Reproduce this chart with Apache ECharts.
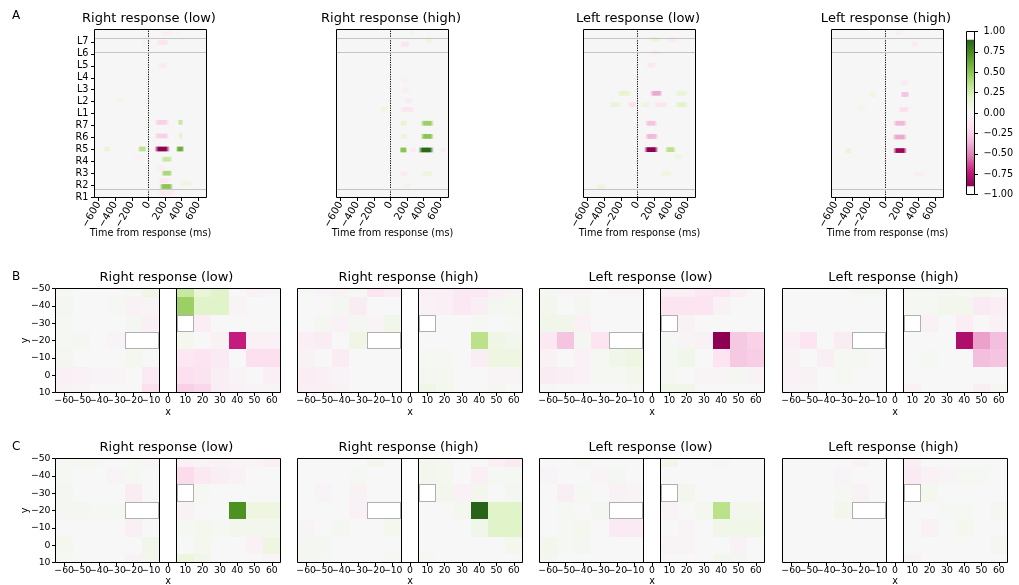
<!DOCTYPE html>
<html>
<head>
<meta charset="utf-8">
<script src="https://cdn.jsdelivr.net/npm/echarts@6/dist/echarts.min.js"></script>
<style>
  html, body { margin: 0; padding: 0; background: #fff; }
  #chart { width: 1019px; height: 585px; }
</style>
</head>
<body>
<div id="chart"></div>
<script>
// ---------- shared labels ----------
const PANEL_TITLES = ['Right response (low)', 'Right response (high)', 'Left response (low)', 'Left response (high)'];
const ROW_LETTERS = ['A', 'B', 'C'];

// ---------- row A: channel x time rasters ----------
const CHANNELS = ['R1', 'R2', 'R3', 'R4', 'R5', 'R6', 'R7', 'L1', 'L2', 'L3', 'L4', 'L5', 'L6', 'L7'];
const TIME_TICKS = [-600, -400, -200, 0, 200, 400, 600];
const TIME_MIN = -650, TIME_MAX = 700;
const CHANNEL_TOP = 14.03;
const BANK_EDGES = [0.72, 12.17, 13.28];

// each entry: [start ms, end ms, channel position, value]
const rasterRightLow = [
  [72, 260, 4.05, -0.9], [332, 432, 4.05, 0.6], [-128, -20, 4.05, 0.35], [-548, -448, 4.05, 0.15],
  [152, 292, 3.2, 0.3], [152, 292, 2.03, 0.4], [92, 212, 2.45, -0.08], [132, 300, 0.92, 0.5],
  [112, 272, 1.4, -0.12], [92, 332, 0.36, -0.12], [72, 252, 5.14, -0.25], [360, 412, 5.14, 0.2],
  [72, 252, 6.28, -0.25], [352, 420, 6.28, 0.3], [92, 252, 12.94, -0.15], [-68, -28, 12.94, 0.08],
  [112, 232, 11.05, -0.1], [152, 292, 13.7, -0.08], [372, 432, 13.2, 0.06], [-390, -270, 8.1, 0.06],
  [-188, -28, 3.4, -0.05], [372, 532, 1.2, 0.1]
];
const rasterRightHigh = [
  [108, 204, 3.97, 0.5], [336, 524, 3.97, 0.88], [236, 316, 3.97, -0.12], [596, 676, 3.97, -0.1],
  [364, 524, 5.1, 0.5], [116, 204, 5.1, 0.15], [364, 524, 6.2, 0.45], [116, 204, 6.2, 0.18],
  [116, 296, 7.35, -0.15], [156, 276, 8.1, -0.1], [116, 236, 8.95, -0.08], [136, 216, 9.8, -0.06],
  [116, 236, 12.8, -0.15], [416, 516, 13.15, 0.12], [-124, -24, 7.4, 0.1], [116, 216, 2.0, -0.1],
  [376, 516, 2.0, 0.12], [156, 236, 1.0, 0.08], [236, 296, 13.8, 0.08]
];
const rasterLeftLow = [
  [80, 252, 4.0, -0.9], [332, 464, 4.0, 0.35], [92, 252, 5.1, -0.35], [92, 240, 6.2, -0.3],
  [152, 304, 8.7, -0.4], [452, 612, 8.7, 0.15], [-248, -68, 8.7, 0.18], [-348, -188, 7.75, 0.15],
  [-120, -8, 7.75, -0.18], [32, 152, 7.75, 0.12], [192, 372, 7.75, -0.15], [452, 612, 7.75, 0.2],
  [104, 232, 11.05, -0.12], [144, 280, 13.2, 0.15], [352, 492, 13.2, -0.1], [152, 292, 12.1, -0.08],
  [272, 432, 2.0, 0.1], [432, 552, 3.4, 0.1], [-508, -368, 0.9, 0.1]
];
const rasterLeftHigh = [
  [92, 260, 3.92, -0.85], [84, 260, 5.05, -0.4], [92, 260, 6.2, -0.35], [152, 292, 7.35, -0.18],
  [180, 292, 8.6, -0.3], [172, 292, 9.6, -0.1], [312, 392, 12.8, -0.1], [112, 212, 13.8, -0.08],
  [-488, -408, 3.92, 0.15], [-208, -108, 8.6, 0.1], [332, 492, 1.95, -0.08], [-348, -228, 7.5, 0.06]
];

// ---------- rows B and C: sensor maps ----------
const CELL_X = [-60, -50, -40, -30, -20, -10, 10, 20, 30, 40, 50, 60];
const CELL_Y = [-50, -40, -30, -20, -10, 0, 10];
const X_TICKS = [-60, -50, -40, -30, -20, -10, 0, 10, 20, 30, 40, 50, 60];
const X_MIN = -65, X_MAX = 65, Y_MIN = -50, Y_MAX = 10;
const MIDLINE = [-5, 5];
// one row per CELL_Y entry, one column per CELL_X entry; null = no sensor
const mapB_RightLow = [
  [0.02, 0, 0, 0, 0.02, 0.08, 0.3, 0.15, 0.2, 0, -0.05, -0.03],
  [0.03, 0, 0, 0.02, -0.05, -0.02, 0.45, 0.2, 0.2, -0.02, 0, 0],
  [0.02, 0, 0, 0, 0.03, -0.06, null, -0.08, 0, 0, 0, 0],
  [0.02, 0.03, 0, -0.03, null, null, 0.04, 0, -0.04, -0.72, -0.05, -0.05],
  [0.03, 0, 0, 0, 0.04, 0, -0.12, -0.15, -0.1, 0, -0.18, -0.18],
  [-0.06, -0.05, -0.03, -0.02, 0, -0.1, -0.18, -0.16, -0.07, -0.03, 0, -0.06],
  [-0.04, -0.02, 0, 0, 0, -0.18, -0.25, -0.22, -0.07, -0.05, -0.03, -0.02]
];
const mapB_RightHigh = [
  [0.02, -0.03, -0.04, 0.02, -0.14, -0.09, -0.06, -0.06, -0.12, -0.12, -0.06, -0.02],
  [0, 0, 0.03, -0.09, 0, 0, -0.05, -0.06, -0.12, -0.07, 0.03, 0.04],
  [0, 0.03, -0.05, 0.03, -0.02, 0.06, null, 0, 0, 0.02, 0, 0.02],
  [-0.06, -0.09, 0, 0.08, null, null, 0, 0, 0, 0.35, 0.08, 0.05],
  [-0.04, 0, -0.09, 0, 0, 0, 0.02, 0.02, 0, -0.07, 0.1, 0.1],
  [-0.08, -0.06, -0.03, 0, 0, 0, 0.03, 0.04, 0, 0, -0.02, -0.02],
  [-0.06, -0.06, -0.04, 0, 0, 0, 0.08, 0.04, 0, 0, 0.03, 0]
];
const mapB_LeftLow = [
  [0.03, -0.02, -0.02, 0, -0.03, -0.02, -0.06, -0.06, -0.12, -0.14, -0.06, 0],
  [0.05, 0, 0.03, 0, 0, 0, -0.14, -0.14, -0.14, -0.04, 0, 0],
  [0.06, 0.06, -0.05, 0, 0, 0, null, -0.04, 0, 0, 0, 0],
  [-0.12, -0.3, 0.03, -0.14, null, null, 0.02, -0.02, -0.04, -0.9, -0.28, -0.24],
  [-0.04, 0, -0.05, 0.02, 0.06, 0.1, 0.02, 0.07, 0, -0.14, -0.28, -0.26],
  [-0.09, -0.07, -0.05, 0.02, 0.02, 0.05, 0.02, 0, -0.02, -0.02, 0.03, -0.04],
  [0.01, 0, 0, 0, 0, 0.02, 0.06, 0.06, 0, 0, 0, 0]
];
const mapB_LeftHigh = [
  [0, 0, 0, 0, 0.03, 0.03, 0.02, 0.02, 0.03, 0.02, 0.04, 0.02],
  [0, 0, 0, 0, 0, 0, 0.02, 0.02, 0.05, 0.05, -0.1, -0.08],
  [0, 0, 0, 0, 0, 0, null, -0.05, 0, -0.08, 0, -0.05],
  [-0.06, -0.14, 0, -0.09, null, null, 0, 0, 0, -0.8, -0.42, -0.32],
  [-0.04, 0, -0.07, 0.02, 0.02, 0, 0, 0.02, 0, 0, -0.32, -0.3],
  [-0.05, -0.04, 0, 0.02, 0, 0, 0, 0, 0, 0, 0, 0],
  [-0.03, -0.02, 0, 0, 0, 0, -0.04, 0, 0, 0, -0.07, 0.03]
];
const mapC_RightLow = [
  [0.02, 0.04, 0.02, 0, 0.02, -0.03, -0.05, -0.03, -0.04, -0.02, -0.02, -0.06],
  [0.02, 0, 0, -0.03, 0.02, 0, -0.2, -0.11, -0.07, -0.05, 0, 0],
  [0.03, 0, 0, 0, -0.09, 0, null, 0.02, 0, 0, 0, 0],
  [0.03, 0.03, 0.02, 0.02, null, null, -0.04, 0, 0, 0.72, 0.1, 0.1],
  [0, 0, 0, 0, -0.06, 0, 0.02, 0.04, 0.02, 0.05, 0.05, 0.05],
  [0.04, 0, 0, 0, 0, 0.06, 0, 0.04, 0, 0, -0.05, 0.1],
  [0.02, 0, 0, 0, -0.04, 0.05, 0.12, 0.06, 0, 0, 0, -0.03]
];
const mapC_RightHigh = [
  [0, 0, 0, 0, 0.05, 0, 0.05, 0.03, 0, 0, -0.06, -0.1],
  [0, 0, 0, 0.02, 0, 0, 0.05, 0.04, 0, -0.06, 0.02, 0.02],
  [0, -0.03, 0, -0.04, 0, 0, null, 0.05, -0.05, 0.05, 0, 0.03],
  [0, 0, 0, -0.05, null, null, 0, 0, 0.04, 0.9, 0.2, 0.2],
  [-0.02, 0, 0.03, 0, 0, 0.04, 0, 0, 0, 0.06, 0.2, 0.2],
  [0.03, 0.03, 0, 0, 0, 0, 0, 0, 0, 0, 0, 0.04],
  [0.03, 0.02, 0, 0, 0, 0.02, 0.02, 0, 0, 0, 0, 0]
];
const mapC_LeftLow = [
  [0, 0, 0.03, 0, 0, 0, 0.06, 0, 0, 0.03, 0, 0],
  [-0.03, 0, 0, -0.02, 0.03, 0, 0, 0, 0, 0, 0, 0],
  [0, -0.07, 0.02, 0, -0.04, -0.02, null, 0.05, 0, 0, 0, 0],
  [0, 0.02, 0, 0.03, null, null, -0.03, 0, 0.04, 0.35, 0.05, 0.05],
  [0, 0.02, 0.04, 0, -0.1, -0.1, 0, -0.03, 0, 0.07, 0.07, 0.07],
  [0.05, 0.02, 0.03, 0, 0, 0, -0.02, -0.02, 0, 0, -0.04, 0],
  [0.03, 0, 0, 0, 0, 0, 0, 0, 0, 0.05, 0.03, 0]
];
const mapC_LeftHigh = [
  [0, 0, 0, 0, -0.05, 0, -0.07, 0, 0, 0, 0, 0],
  [0, 0, 0, -0.03, 0, 0, -0.1, -0.05, -0.02, 0.02, 0.02, 0],
  [0, 0, 0, 0.02, -0.04, 0, null, 0.04, 0, 0, 0, 0],
  [0, 0, 0, 0.05, null, null, 0, 0, 0.02, 0.02, 0, 0.03],
  [0, 0, 0, 0, 0, 0, 0, -0.04, 0, 0.04, 0, 0],
  [0, 0, 0, 0, 0, 0, 0, 0, 0, 0, 0, 0.03],
  [0, 0, 0, 0, 0, 0, -0.04, 0, 0, 0, 0, 0]
];

// ---------- colour scale ----------
const COLORBAR_TICKS = [-1, -0.75, -0.5, -0.25, 0, 0.25, 0.5, 0.75, 1];
const CMAP_LIM = 0.9;
const PIYG = ['#8e0152', '#c51b7d', '#de77ae', '#f1b6da', '#fde0ef', '#f7f7f7',
              '#e6f5d0', '#b8e186', '#7fbc41', '#4d9221', '#276419'];

// ---------- helpers ----------
const FONT = 'DejaVu Sans';
const INK = '#000';
const PIYG_RGB = PIYG.map(h => [1, 3, 5].map(k => parseInt(h.slice(k, k + 2), 16)));
function piyg(v, alpha) {
  const c = Math.max(-CMAP_LIM, Math.min(CMAP_LIM, v));
  const p = (c + CMAP_LIM) / (2 * CMAP_LIM) * (PIYG.length - 1);
  const i = Math.min(PIYG.length - 2, Math.floor(p));
  const f = p - i;
  const rgb = PIYG_RGB[i].map((x, k) => Math.round(x + (PIYG_RGB[i + 1][k] - x) * f));
  return 'rgba(' + rgb.join(',') + ',' + (alpha === undefined ? 1 : alpha) + ')';
}
const minus = v => String(v).replace('-', '\u2212');

// ---------- layout ----------
const A_GRIDS = [94.5, 336.5, 583.5, 831.5].map(l => ({ left: l, top: 29.5, width: 112, height: 168 }));
const CB_GRID = { left: 966.5, top: 31.5, width: 8, height: 163 };
const B_GRIDS = [55.5, 297.5, 539.5, 782.5].map(l => ({ left: l, top: 288.5, width: 225, height: 104 }));
const C_GRIDS = [55.5, 297.5, 539.5, 782.5].map(l => ({ left: l, top: 458.5, width: 225, height: 104 }));
const ALL_GRIDS = [...A_GRIDS, CB_GRID, ...B_GRIDS, ...C_GRIDS];

const grids = ALL_GRIDS.map((g, i) => Object.assign({}, g, {
  show: i < 4, backgroundColor: '#f6f6f6', borderWidth: 0, containLabel: false, outerBoundsMode: 'none'
}));

const xAxes = [], yAxes = [], series = [];
const tickFont = { fontSize: 9.7, color: INK, fontFamily: FONT };

// row A axes + rasters
const rasters = [rasterRightLow, rasterRightHigh, rasterLeftLow, rasterLeftHigh];
rasters.forEach((data, i) => {
  xAxes.push({
    gridIndex: i, type: 'value', min: TIME_MIN, max: TIME_MAX,
    axisLine: { show: false, onZero: false }, splitLine: { show: false },
    axisTick: { show: true, customValues: TIME_TICKS, length: 3.5, lineStyle: { color: INK, width: 1 } },
    axisLabel: Object.assign({ customValues: TIME_TICKS, rotate: 60, margin: 5, formatter: minus,
                 showMinLabel: true, showMaxLabel: true, hideOverlap: false }, tickFont, { fontSize: 10.2 }),
    name: 'Time from response (ms)', nameLocation: 'middle', nameGap: 31, nameMoveOverlap: false,
    nameTextStyle: tickFont
  });
  yAxes.push({
    gridIndex: i, type: 'value', min: 0, max: CHANNEL_TOP,
    axisLine: { show: false, onZero: false }, splitLine: { show: false },
    axisTick: { show: i === 0, customValues: CHANNELS.map((_, k) => k), length: 3.5, lineStyle: { color: INK, width: 1 } },
    axisLabel: Object.assign({ show: i === 0, customValues: CHANNELS.map((_, k) => k), margin: 6,
                 formatter: v => CHANNELS[Math.round(v)], showMinLabel: true, showMaxLabel: true, hideOverlap: false }, tickFont)
  });
  series.push({
    type: 'custom', xAxisIndex: i, yAxisIndex: i, data: data,
    encode: { x: [0, 1], y: 2 }, silent: true,
    renderItem: (params, api) => {
      const v = api.value(3), row = api.value(2);
      const p0 = api.coord([api.value(0), row + 0.2]);
      const p1 = api.coord([api.value(1), row - 0.2]);
      const cs = params.coordSys;
      const x0 = Math.max(cs.x, p0[0]), x1 = Math.min(cs.x + cs.width, p1[0]);
      const c = piyg(v), c0 = piyg(v, 0);
      return {
        type: 'rect',
        shape: { x: x0, y: p0[1], width: Math.max(0, x1 - x0), height: p1[1] - p0[1] },
        style: { fill: new echarts.graphic.LinearGradient(0, 0, 1, 0, [
          { offset: 0, color: c0 }, { offset: 0.25, color: c }, { offset: 0.75, color: c }, { offset: 1, color: c0 }
        ]) }
      };
    },
    markLine: {
      silent: true, symbol: 'none', label: { show: false }, animation: false,
      data: [{ xAxis: 0, lineStyle: { color: INK, type: [1.2, 1.2], width: 1 } }]
        .concat(BANK_EDGES.map(y => ({ yAxis: y, lineStyle: { color: '#c4c4c4', type: 'solid', width: 1 } })))
    }
  });
});

// colour bar
xAxes.push({ gridIndex: 4, type: 'value', min: 0, max: 1, show: false });
yAxes.push({
  gridIndex: 4, type: 'value', min: -1, max: 1, interval: 0.25, position: 'right',
  axisLine: { show: false, onZero: false }, splitLine: { show: false },
  axisTick: { show: true, customValues: COLORBAR_TICKS, length: 3.5, lineStyle: { color: INK, width: 1 } },
  axisLabel: Object.assign({ customValues: COLORBAR_TICKS, margin: 9,
               formatter: v => minus(Number(v).toFixed(2)), showMinLabel: true, showMaxLabel: true }, tickFont)
});
series.push({
  type: 'custom', xAxisIndex: 4, yAxisIndex: 4, silent: true,
  data: [[0, -CMAP_LIM, 1, CMAP_LIM]], encode: { x: [0, 2], y: [1, 3] },
  renderItem: (params, api) => {
    const top = api.coord([api.value(0), api.value(3)]);
    const bot = api.coord([api.value(2), api.value(1)]);
    const stops = PIYG.slice().reverse().map((c, k) => ({ offset: k / (PIYG.length - 1), color: c }));
    return {
      type: 'rect', shape: { x: top[0], y: top[1], width: bot[0] - top[0], height: bot[1] - top[1] },
      style: { fill: new echarts.graphic.LinearGradient(0, 0, 0, 1, stops) }
    };
  }
});

// rows B and C
function cellItems(map) {
  const cells = [], holes = [];
  map.forEach((row, r) => row.forEach((v, c) => {
    if (v === null) holes.push([CELL_X[c], CELL_Y[r]]);
    else cells.push([CELL_X[c], CELL_Y[r], v]);
  }));
  return { cells, holes };
}
function cellRect(params, api, x, y) {
  const a = api.coord([x - 5, y - 5]), b = api.coord([x + 5, y + 5]);
  const cs = params.coordSys;
  const x0 = Math.round(Math.max(cs.x, Math.min(a[0], b[0])));
  const x1 = Math.round(Math.min(cs.x + cs.width, Math.max(a[0], b[0])));
  const y0 = Math.round(Math.max(cs.y, Math.min(a[1], b[1])));
  const y1 = Math.round(Math.min(cs.y + cs.height, Math.max(a[1], b[1])));
  return { x0, x1, y0, y1 };
}
// tick labels alternate between two stacked bottom axes so neighbouring labels never get culled
const X_LABELS_EVEN = X_TICKS.filter((_, k) => k % 2 === 0);
const X_LABELS_ODD = X_TICKS.filter((_, k) => k % 2 === 1);
const sensorMaps = [mapB_RightLow, mapB_RightHigh, mapB_LeftLow, mapB_LeftHigh,
                    mapC_RightLow, mapC_RightHigh, mapC_LeftLow, mapC_LeftHigh];
const oddLabelAxes = [];
sensorMaps.forEach((map, k) => {
  const gi = 5 + k;
  const first = k % 4 === 0;
  const rowC = k >= 4;
  xAxes.push({
    gridIndex: gi, type: 'value', min: X_MIN, max: X_MAX, position: 'bottom',
    axisLine: { show: false, onZero: false }, splitLine: { show: false },
    axisTick: { show: true, customValues: X_TICKS, length: 3.5, lineStyle: { color: INK, width: 1 } },
    axisLabel: Object.assign({ customValues: X_LABELS_EVEN, margin: 4, formatter: minus,
                 hideOverlap: false, showMinLabel: true, showMaxLabel: true }, tickFont, { fontSize: 9.3 }),
    name: 'x', nameLocation: 'middle', nameGap: rowC ? 14 : 15, nameMoveOverlap: false, nameTextStyle: tickFont
  });
  oddLabelAxes.push({
    gridIndex: gi, type: 'value', min: X_MIN, max: X_MAX, position: 'bottom', offset: 0,
    axisLine: { show: false, onZero: false }, splitLine: { show: false }, axisTick: { show: false },
    axisLabel: Object.assign({ customValues: X_LABELS_ODD, margin: 4, formatter: minus,
                 hideOverlap: false, showMinLabel: true, showMaxLabel: true }, tickFont, { fontSize: 9.3 })
  });
  yAxes.push({
    gridIndex: gi, type: 'value', min: Y_MIN, max: Y_MAX, interval: 10, inverse: true,
    axisLine: { show: false, onZero: false }, splitLine: { show: false },
    axisTick: { show: first, length: 3.5, lineStyle: { color: INK, width: 1 } },
    axisLabel: Object.assign({ show: first, margin: 5, formatter: minus,
                 showMinLabel: true, showMaxLabel: true }, tickFont, { fontSize: 9.3 }),
    name: first ? 'y' : '', nameLocation: 'middle', nameGap: 25, nameRotate: 90, nameMoveOverlap: false,
    nameTextStyle: tickFont
  });
  const { cells, holes } = cellItems(map);
  const holeSet = new Set(holes.map(h => h.join(',')));
  const isHole = (x, y) => holeSet.has(x + ',' + y);
  series.push({
    type: 'custom', xAxisIndex: gi, yAxisIndex: gi, data: cells, encode: { x: 0, y: 1 }, silent: true,
    renderItem: (params, api) => {
      const r = cellRect(params, api, api.value(0), api.value(1));
      return { type: 'rect', shape: { x: r.x0, y: r.y0, width: r.x1 - r.x0, height: r.y1 - r.y0 },
               style: { fill: piyg(api.value(2)) } };
    }
  });
  series.push({
    type: 'custom', xAxisIndex: gi, yAxisIndex: gi, data: holes, encode: { x: 0, y: 1 }, silent: true,
    renderItem: (params, api) => {
      const x = api.value(0), y = api.value(1);
      const r = cellRect(params, api, x, y);
      const edge = '#b0b0b0';
      const kids = [{ type: 'rect', shape: { x: r.x0, y: r.y0, width: r.x1 - r.x0, height: r.y1 - r.y0 }, style: { fill: '#fff' } }];
      const line = (x1, y1, x2, y2) => ({ type: 'line', shape: { x1, y1, x2, y2 }, style: { stroke: edge, lineWidth: 1 } });
      if (!isHole(x - 10, y)) kids.push(line(r.x0 + 0.5, r.y0, r.x0 + 0.5, r.y1));
      if (!isHole(x + 10, y)) kids.push(line(r.x1 - 0.5, r.y0, r.x1 - 0.5, r.y1));
      if (!isHole(x, y - 10)) kids.push(line(r.x0, r.y0 + 0.5, r.x1, r.y0 + 0.5));
      if (!isHole(x, y + 10)) kids.push(line(r.x0, r.y1 - 0.5, r.x1, r.y1 - 0.5));
      return { type: 'group', children: kids };
    },
    markLine: {
      silent: true, symbol: 'none', label: { show: false }, animation: false,
      lineStyle: { color: INK, type: 'solid', width: 1 },
      data: MIDLINE.map(x => ({ xAxis: x }))
    }
  });
});
xAxes.push(...oddLabelAxes);

// ---------- titles ----------
const titles = [];
[A_GRIDS, B_GRIDS, C_GRIDS].forEach((row, r) => {
  row.forEach((g, i) => titles.push({
    text: PANEL_TITLES[i], left: g.left + g.width / 2 - 1.5, top: g.top - 17.5,
    textAlign: 'center', padding: 0,
    textStyle: { fontSize: 13, fontWeight: 'normal', color: INK, fontFamily: FONT }
  }));
});
[10, 271, 441].forEach((t, r) => titles.push({
  text: ROW_LETTERS[r], left: 12, top: t, padding: 0,
  textStyle: { fontSize: 12, fontWeight: 'normal', color: INK, fontFamily: FONT }
}));

// ---------- frames ----------
const frames = ALL_GRIDS.map(g => ({
  type: 'rect', silent: true, z: 100,
  shape: { x: g.left, y: g.top, width: g.width, height: g.height },
  style: { fill: 'none', stroke: INK, lineWidth: 1 }
}));

const chart = echarts.init(document.getElementById('chart'), null, { renderer: 'canvas' });
chart.setOption({
  animation: false,
  backgroundColor: '#fff',
  textStyle: { fontFamily: FONT, color: INK },
  title: titles,
  grid: grids,
  xAxis: xAxes,
  yAxis: yAxes,
  series: series,
  graphic: { elements: frames }
});
</script>
</body>
</html>
